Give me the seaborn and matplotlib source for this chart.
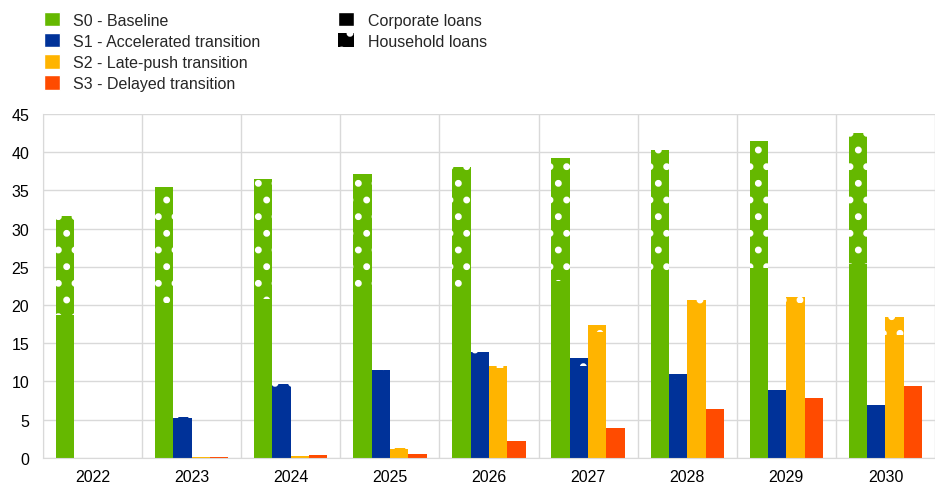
import pandas as pd
import numpy as np
import matplotlib
matplotlib.use("Agg")
import matplotlib.pyplot as plt
import seaborn as sns
from matplotlib.patches import Patch

years = ["2022", "2023", "2024", "2025", "2026", "2027", "2028", "2029", "2030"]
scenarios = ["S0 - Baseline", "S1 - Accelerated transition",
             "S2 - Late-push transition", "S3 - Delayed transition"]
colors = ["#65B800", "#003299", "#FFB400", "#FF4B00"]

# corporate loans (solid part)
corp_s0 = [18.7, 20.3, 20.8, 21.9, 22.0, 23.1, 24.0, 24.9, 25.3]
corp_s1 = [0.0, 5.2, 8.8, 11.2, 13.6, 12.0, 10.2, 8.3, 6.7]
corp_s2 = [0.0, 0.05, 0.2, 1.2, 11.7, 16.4, 19.0, 20.3, 16.1]
corp_s3 = [0.0, 0.05, 0.35, 0.5, 2.25, 3.9, 6.4, 7.85, 9.4]
# household loans (patterned part, stacked on top)
hh_s0 = [12.9, 15.2, 15.7, 15.3, 16.1, 16.2, 16.3, 16.5, 17.2]
hh_s1 = [0.0, 0.1, 0.8, 0.3, 0.3, 1.1, 0.8, 0.6, 0.15]
hh_s2 = [0.0, 0.05, 0.1, 0.1, 0.3, 1.0, 1.6, 0.7, 2.3]
hh_s3 = [0.0, 0.0, 0.0, 0.0, 0.0, 0.0, 0.0, 0.0, 0.0]

corp = [corp_s0, corp_s1, corp_s2, corp_s3]
hh = [hh_s0, hh_s1, hh_s2, hh_s3]

rows = []
for s, c_vals, h_vals in zip(scenarios, corp, hh):
    for y, c, h in zip(years, c_vals, h_vals):
        rows.append({"year": y, "scenario": s, "corporate": c, "total": c + h})
df = pd.DataFrame(rows)

sns.set_style("white")
plt.rcParams["font.family"] = ["Liberation Sans", "DejaVu Sans"]
plt.rcParams["hatch.linewidth"] = 2.5

fig = plt.figure(figsize=(9.35, 4.85), dpi=100)
ax = fig.add_axes([0.046, 0.054, 0.954, 0.709])

pal = dict(zip(scenarios, colors))
# full bars (corporate + household) carry the household pattern
sns.barplot(data=df, x="year", y="total", hue="scenario", hue_order=scenarios,
            palette=pal, width=0.74, gap=0, saturation=1, legend=False, ax=ax,
            linewidth=0)
for p in ax.patches:
    p.set_hatch(".")
    p.set_edgecolor("white")
    p.set_linewidth(0)

# solid corporate part drawn over the bottom
sns.barplot(data=df, x="year", y="corporate", hue="scenario", hue_order=scenarios,
            palette=pal, width=0.74, gap=0, saturation=1, legend=False, ax=ax,
            linewidth=0)

ax.set_ylim(0, 45)
ax.set_yticks(np.arange(0, 46, 5))
ax.set_xlim(-0.5, 8.38)
ax.set_xticks(np.arange(-0.5, 9, 1), minor=True)
ax.grid(axis="y", color="#D9D9D9", linewidth=1)
ax.grid(axis="x", which="minor", color="#D9D9D9", linewidth=1)
ax.set_axisbelow(True)
ax.set_xlabel("")
ax.set_ylabel("")
for side in ["top", "right"]:
    ax.spines[side].set_visible(False)
for side in ["left", "bottom"]:
    ax.spines[side].set_color("#D9D9D9")
ax.tick_params(axis="y", which="both", length=0, labelsize=11.5, colors="#000000",
               pad=10)
ax.tick_params(axis="x", which="both", length=0, labelsize=11.5, colors="#000000",
               pad=8)

h1 = [Patch(facecolor=c, label=s) for c, s in zip(colors, scenarios)]
fig.legend(handles=h1, loc="upper left", bbox_to_anchor=(0.035, 0.996),
           frameon=False, fontsize=11.5, handlelength=1.0, handleheight=1.0,
           handletextpad=0.85, labelspacing=0.34, borderaxespad=0.3)
h2 = [Patch(facecolor="black", label="Corporate loans"),
      Patch(facecolor="black", edgecolor="white", linewidth=0, hatch=".",
            label="Household loans")]
fig.legend(handles=h2, loc="upper left", bbox_to_anchor=(0.35, 0.996),
           frameon=False, fontsize=11.5, handlelength=1.0, handleheight=1.0,
           handletextpad=0.85, labelspacing=0.34, borderaxespad=0.3)

fig.savefig("out.png", dpi=100)
